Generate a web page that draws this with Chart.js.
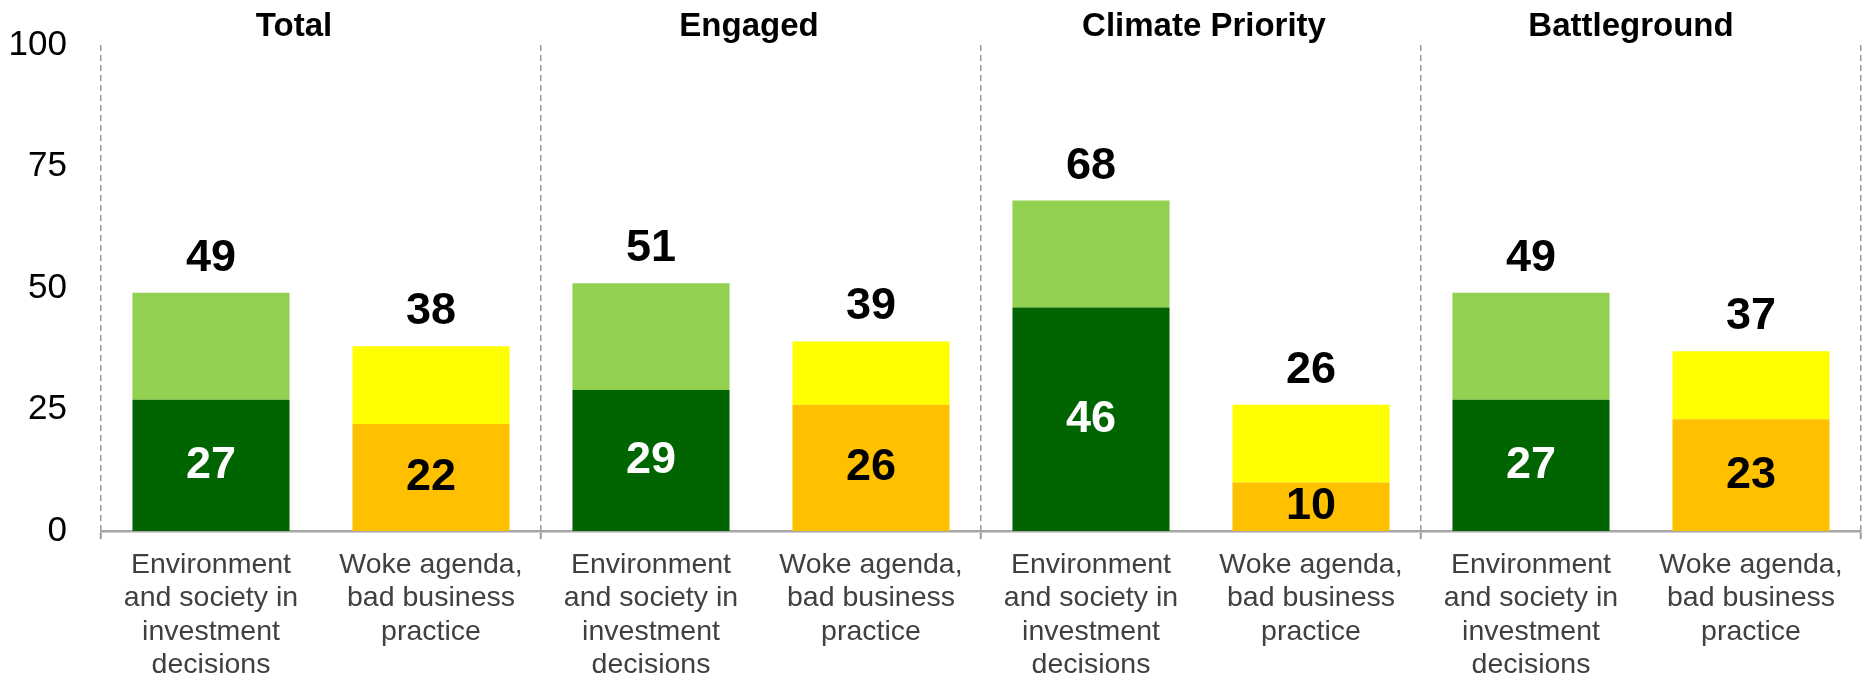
<!DOCTYPE html>
<html>
<head>
<meta charset="utf-8">
<script src="https://cdn.jsdelivr.net/npm/chart.js@4"></script>
<style>
  html, body { margin: 0; padding: 0; background: #fff; }
</style>
</head>
<body>
<canvas id="chart-1" width="1864" height="680"></canvas>
<script>
const FONT = '"Liberation Sans", Arial, sans-serif';

const groups = ['Total', 'Engaged', 'Climate Priority', 'Battleground'];
const envLabel = ['Environment', 'and society in', 'investment', 'decisions'];
const wokeLabel = ['Woke agenda,', 'bad business', 'practice'];
const envStrong = [27, 29, 46, 27];
const envTotal = [49, 51, 68, 49];
const wokeStrong = [22, 26, 10, 23];
const wokeTotal = [38, 39, 26, 37];
const yTicks = [0, 25, 50, 75, 100];

// interleave: env bar then woke bar for every group
var labels = [], bottomVals = [], topVals = [], totals = [];
groups.forEach((g, k) => {
    labels.push(envLabel, wokeLabel);
    bottomVals.push(envStrong[k], wokeStrong[k]);
    totals.push(envTotal[k], wokeTotal[k]);
    topVals.push(envTotal[k] - envStrong[k], wokeTotal[k] - wokeStrong[k]);
});
var bottomColors = labels.map((l, i) => i % 2 === 0 ? '#006400' : '#FFC000');
var topColors = labels.map((l, i) => i % 2 === 0 ? '#92D050' : '#FFFF00');

// headers in the original sit a little off the group centre
const headerNudge = [-27, -12, 3, -10];

const valueLabels = {
    id: 'valueLabels',
    afterDatasetsDraw(chart) {
        const ctx = chart.ctx;
        const low = chart.getDatasetMeta(0).data;
        const high = chart.getDatasetMeta(1).data;
        ctx.save();
        ctx.textAlign = 'center';
        ctx.font = 'bold 45px ' + FONT;
        low.forEach((bar, i) => {
            ctx.textBaseline = 'middle';
            ctx.fillStyle = i % 2 === 0 ? '#ffffff' : '#000000';
            ctx.fillText(bottomVals[i], bar.x, (bar.y + bar.base) / 2);
            ctx.textBaseline = 'alphabetic';
            ctx.fillStyle = '#000000';
            ctx.fillText(totals[i], high[i].x, high[i].y - 22);
        });
        // group headers over each pair of bars
        const xs = chart.scales.x;
        ctx.font = 'bold 33px ' + FONT;
        groups.forEach((g, k) => {
            const cx = (xs.getPixelForValue(2 * k) + xs.getPixelForValue(2 * k + 1)) / 2;
            ctx.fillText(g, cx + headerNudge[k], 36);
        });
        ctx.restore();
    }
};

const sepColor = c => (c.type === 'scale' || c.index % 2 === 0) ? '#9a9a9a' : 'rgba(0,0,0,0)';

new Chart(document.getElementById('chart-1'), {
    type: 'bar',
    data: {
        labels: labels,
        datasets: [
            {
                label: 'strong',
                data: bottomVals,
                backgroundColor: bottomColors,
                borderWidth: 0
            },
            {
                label: 'total',
                data: topVals,
                backgroundColor: topColors,
                borderWidth: 0
            }
        ]
    },
    options: {
        responsive: false,
        animation: false,
        devicePixelRatio: 1,
        barPercentage: 0.714,
        categoryPercentage: 1,
        layout: {
            padding: { top: 45, right: 3, left: 0, bottom: 0 }
        },
        plugins: {
            legend: { display: false },
            tooltip: { enabled: false }
        },
        scales: {
            x: {
                stacked: true,
                afterFit: s => { s.height = 149; s.paddingLeft = 0; s.paddingRight = 0; },
                grid: {
                    offset: true,
                    color: sepColor,
                    tickColor: sepColor,
                    lineWidth: 1.5,
                    tickWidth: 2,
                    tickLength: 8
                },
                border: {
                    display: true,
                    color: '#a6a6a6',
                    width: 2.5,
                    dash: [6, 4]
                },
                ticks: {
                    autoSkip: false,
                    maxRotation: 0,
                    padding: 10,
                    color: '#404040',
                    font: { family: FONT, size: 28.5, lineHeight: 1.16 }
                }
            },
            y: {
                stacked: true,
                min: 0,
                max: 100,
                afterFit: s => { s.width = 101; s.paddingTop = 0; s.paddingBottom = 0; },
                afterBuildTicks: s => { s.ticks = yTicks.map(v => ({ value: v })); },
                grid: { display: false, drawTicks: false },
                border: { display: false },
                ticks: {
                    padding: 34,
                    color: '#000000',
                    font: { family: FONT, size: 35 }
                }
            }
        }
    },
    plugins: [valueLabels]
});
</script>
</body>
</html>
